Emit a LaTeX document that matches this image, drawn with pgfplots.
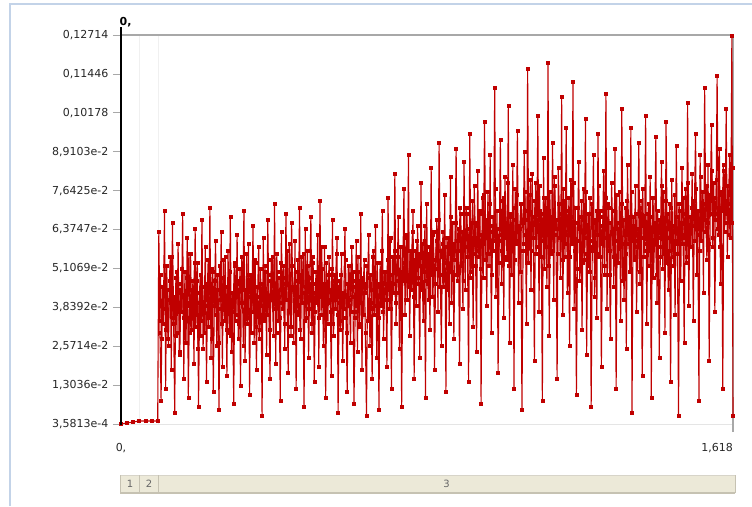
\documentclass[border=0pt]{standalone}
\usepackage{pgfplots}
\pgfplotsset{compat=1.18}
\usepackage{fontspec}
\setmainfont{DejaVu Sans}
\definecolor{datared}{HTML}{C00000}
\definecolor{framebl}{HTML}{C3D3E8}
\definecolor{stripfill}{HTML}{ECE9D8}
\definecolor{stripline}{HTML}{C6C2B2}
\definecolor{tickgray}{HTML}{A8A8A8}
\begin{document}
\begin{tikzpicture}[x=1pt,y=1pt]
\path[use as bounding box] (-121,-82) rectangle (631,424);
% outer frame
\draw[framebl, line width=2pt] (-110.5,-82) -- (-110.5,420) -- (631,420);
% grid lines and borders
\draw[gray!12, line width=0.8pt] (18.5,0) -- (18.5,389);
\draw[gray!12, line width=0.8pt] (37.5,0) -- (37.5,389);
\draw[gray!20, line width=1pt] (0,0) -- (612,0);
\draw[tickgray, line width=1.2pt] (0,389) -- (612,389);
\draw[tickgray, line width=1.2pt] (612,-8) -- (612,389);
\begin{axis}[
  at={(0,0)}, anchor=origin,
  scale only axis, width=612pt, height=389pt,
  xmin=0, xmax=1618, ymin=0.35813, ymax=127.14,
  axis line style={draw=none},
  xtick=\empty,
  ytick={0.35813,13.036,25.714,38.392,51.069,63.747,76.425,89.103,101.78,114.46,127.14},
  yticklabels={{3,5813e-4},{1,3036e-2},{2,5714e-2},{3,8392e-2},{5,1069e-2},{6,3747e-2},{7,6425e-2},{8,9103e-2},{0,10178},{0,11446},{0,12714}},
  ytick pos=left,
  tick align=outside,
  major tick length=8pt,
  ytick style={tickgray, line width=0.8pt},
  yticklabel style={font=\fontsize{11}{13}\selectfont, text=black!85, xshift=-1pt},
  clip=false,
]
% values in units of 1e-3
\addplot[datared, line width=1.1pt, mark=square*, mark size=1.5pt, mark options={datared, line width=0.4pt}] coordinates {
(101.5,34)(104.5,49)(107.5,28)(110.5,45)(113.5,38)(116.5,52)(119.5,31)(122.5,44)(125.5,26)(128.5,47)
(131.5,40)(134.5,55)(137.5,33)(140.5,42)(143.5,29)(146.5,50)(149.5,37)(152.5,46)(155.5,24)(158.5,43)
(161.5,51)(164.5,35)(167.5,41)(170.5,27)(173.5,48)(176.5,39)(179.5,56)(182.5,30)(185.5,44)(188.5,36)
(191.5,42)(194.5,53)(197.5,32)(200.5,47)(203.5,25)(206.5,40)(209.5,49)(212.5,34)(215.5,45)(218.5,38)
(221.5,30)(224.5,46)(227.5,41)(230.5,54)(233.5,35)(236.5,43)(239.5,28)(242.5,50)(245.5,39)(248.5,47)
(251.5,36)(254.5,44)(257.5,27)(260.5,52)(263.5,41)(266.5,33)(269.5,48)(272.5,38)(275.5,55)(278.5,31)
(281.5,45)(284.5,39)(287.5,50)(290.5,29)(293.5,43)(296.5,37)(299.5,53)(302.5,34)(305.5,46)(308.5,42)
(311.5,33)(314.5,51)(317.5,40)(320.5,47)(323.5,26)(326.5,44)(329.5,38)(332.5,56)(335.5,35)(338.5,49)
(341.5,42)(344.5,30)(347.5,48)(350.5,37)(353.5,54)(356.5,32)(359.5,45)(362.5,40)(365.5,28)(368.5,51)
(371.5,39)(374.5,46)(377.5,34)(380.5,52)(383.5,43)(386.5,36)(389.5,49)(392.5,31)(395.5,47)(398.5,41)
(401.5,55)(404.5,38)(407.5,44)(410.5,30)(413.5,50)(416.5,42)(419.5,35)(422.5,53)(425.5,40)(428.5,46)
(431.5,33)(434.5,48)(437.5,41)(440.5,57)(443.5,37)(446.5,45)(449.5,29)(452.5,52)(455.5,44)(458.5,39)
(461.5,47)(464.5,36)(467.5,54)(470.5,42)(473.5,31)(476.5,49)(479.5,40)(482.5,56)(485.5,34)(488.5,45)
(491.5,41)(494.5,52)(497.5,38)(500.5,46)(503.5,33)(506.5,55)(509.5,43)(512.5,37)(515.5,50)(518.5,44)
(521.5,35)(524.5,48)(527.5,42)(530.5,58)(533.5,39)(536.5,46)(539.5,31)(542.5,53)(545.5,40)(548.5,49)
(551.5,44)(554.5,37)(557.5,51)(560.5,33)(563.5,47)(566.5,42)(569.5,56)(572.5,36)(575.5,45)(578.5,40)
(581.5,49)(584.5,34)(587.5,43)(590.5,38)(593.5,54)(596.5,30)(599.5,46)(602.5,41)(605.5,52)(608.5,37)
(611.5,42)(614.5,50)(617.5,35)(620.5,47)(623.5,39)(626.5,55)(629.5,32)(632.5,45)(635.5,40)(638.5,48)
(641.5,36)(644.5,46)(647.5,43)(650.5,52)(653.5,34)(656.5,41)(659.5,49)(662.5,38)(665.5,55)(668.5,44)
(671.5,47)(674.5,39)(677.5,53)(680.5,35)(683.5,45)(686.5,42)(689.5,57)(692.5,37)(695.5,50)(698.5,46)
(701.5,41)(704.5,54)(707.5,44)(710.5,60)(713.5,38)(716.5,49)(719.5,46)(722.5,57)(725.5,40)(728.5,52)
(731.5,55)(734.5,43)(737.5,50)(740.5,36)(743.5,58)(746.5,47)(749.5,53)(752.5,41)(755.5,61)(758.5,49)
(761.5,45)(764.5,57)(767.5,51)(770.5,63)(773.5,42)(776.5,54)(779.5,48)(782.5,60)(785.5,46)(788.5,56)
(791.5,52)(794.5,44)(797.5,59)(800.5,50)(803.5,65)(806.5,47)(809.5,55)(812.5,41)(815.5,58)(818.5,53)
(821.5,49)(824.5,62)(827.5,54)(830.5,46)(833.5,60)(836.5,51)(839.5,67)(842.5,45)(845.5,57)(848.5,55)
(851.5,63)(854.5,48)(857.5,58)(860.5,53)(863.5,44)(866.5,61)(869.5,56)(872.5,68)(875.5,50)(878.5,59)
(881.5,54)(884.5,66)(887.5,49)(890.5,60)(893.5,57)(896.5,71)(899.5,52)(902.5,63)(905.5,47)(908.5,62)
(911.5,58)(914.5,69)(917.5,55)(920.5,64)(923.5,48)(926.5,61)(929.5,73)(932.5,56)(935.5,66)(938.5,52)
(941.5,65)(944.5,57)(947.5,70)(950.5,51)(953.5,62)(956.5,59)(959.5,75)(962.5,54)(965.5,67)(968.5,61)
(971.5,56)(974.5,72)(977.5,63)(980.5,49)(983.5,68)(986.5,60)(989.5,77)(992.5,58)(995.5,64)(998.5,53)
(1001.5,70)(1004.5,62)(1007.5,57)(1010.5,74)(1013.5,55)(1016.5,66)(1019.5,61)(1022.5,79)(1025.5,52)(1028.5,69)
(1031.5,63)(1034.5,58)(1037.5,71)(1040.5,54)(1043.5,67)(1046.5,75)(1049.5,60)(1052.5,65)(1055.5,50)(1058.5,72)
(1061.5,66)(1064.5,59)(1067.5,76)(1070.5,62)(1073.5,53)(1076.5,70)(1079.5,64)(1082.5,80)(1085.5,57)(1088.5,68)
(1091.5,61)(1094.5,73)(1097.5,56)(1100.5,67)(1103.5,63)(1106.5,78)(1109.5,55)(1112.5,69)(1115.5,60)(1118.5,74)
(1121.5,58)(1124.5,71)(1127.5,65)(1130.5,52)(1133.5,76)(1136.5,62)(1139.5,68)(1142.5,57)(1145.5,81)(1148.5,64)
(1151.5,67)(1154.5,56)(1157.5,72)(1160.5,61)(1163.5,69)(1166.5,54)(1169.5,77)(1172.5,63)(1175.5,59)(1178.5,70)
(1181.5,62)(1184.5,74)(1187.5,55)(1190.5,68)(1193.5,60)(1196.5,79)(1199.5,57)(1202.5,66)(1205.5,51)(1208.5,71)
(1211.5,64)(1214.5,58)(1217.5,73)(1220.5,53)(1223.5,67)(1226.5,61)(1229.5,76)(1232.5,56)(1235.5,69)(1238.5,50)
(1241.5,60)(1244.5,72)(1247.5,57)(1250.5,66)(1253.5,48)(1256.5,70)(1259.5,62)(1262.5,78)(1265.5,55)(1268.5,65)
(1271.5,59)(1274.5,68)(1277.5,52)(1280.5,74)(1283.5,61)(1286.5,57)(1289.5,71)(1292.5,49)(1295.5,66)(1298.5,63)
(1301.5,55)(1304.5,70)(1307.5,60)(1310.5,75)(1313.5,53)(1316.5,64)(1319.5,58)(1322.5,72)(1325.5,47)(1328.5,67)
(1331.5,62)(1334.5,56)(1337.5,73)(1340.5,59)(1343.5,68)(1346.5,51)(1349.5,76)(1352.5,60)(1355.5,65)(1358.5,54)
(1361.5,69)(1364.5,58)(1367.5,64)(1370.5,50)(1373.5,71)(1376.5,61)(1379.5,77)(1382.5,55)(1385.5,66)(1388.5,59)
(1391.5,63)(1394.5,72)(1397.5,57)(1400.5,68)(1403.5,52)(1406.5,74)(1409.5,60)(1412.5,66)(1415.5,49)(1418.5,70)
(1421.5,61)(1424.5,67)(1427.5,55)(1430.5,78)(1433.5,62)(1436.5,58)(1439.5,73)(1442.5,53)(1445.5,69)(1448.5,64)
(1451.5,57)(1454.5,71)(1457.5,63)(1460.5,52)(1463.5,75)(1466.5,60)(1469.5,68)(1472.5,56)(1475.5,72)(1478.5,62)
(1481.5,66)(1484.5,59)(1487.5,74)(1490.5,61)(1493.5,69)(1496.5,55)(1499.5,79)(1502.5,63)(1505.5,58)(1508.5,71)
(1511.5,65)(1514.5,73)(1517.5,60)(1520.5,77)(1523.5,62)(1526.5,70)(1529.5,57)(1532.5,81)(1535.5,64)(1538.5,68)
(1541.5,72)(1544.5,63)(1547.5,78)(1550.5,66)(1553.5,59)(1556.5,75)(1559.5,69)(1562.5,83)(1565.5,61)(1568.5,74)
(1571.5,67)(1574.5,80)(1577.5,64)(1580.5,71)(1583.5,58)(1586.5,76)(1589.5,70)(1592.5,85)(1595.5,63)(1598.5,73)
(1601.5,69)(1604.5,78)(1607.5,62)(1610.5,75)(1613.5,66)(1616.5,84)
};
\addplot[datared, line width=1.1pt, mark=square*, mark size=1.5pt, mark options={datared, line width=0.4pt}] coordinates {
(0,0.36)(16,0.7)(32,1.0)(48,1.34)(64,1.34)(80,1.34)(97,1.34)
(100,63)(103,30)(106,8)(109,45)(112,33)(115,70)(118,12)(121,52)(124,28)(127,41)
(130,55)(133,18)(136,66)(139,35)(142,4)(145,48)(148,30)(151,59)(154,23)(157,44)
(160,37)(163,69)(166,15)(169,50)(172,27)(175,61)(178,9)(181,40)(184,56)(187,31)
(190,47)(193,20)(196,64)(199,36)(202,53)(205,6)(208,43)(211,29)(214,67)(217,25)
(220,39)(223,58)(226,14)(229,46)(232,32)(235,71)(238,22)(241,51)(244,11)(247,42)
(250,60)(253,26)(256,49)(259,5)(262,38)(265,63)(268,19)(271,54)(274,34)(277,45)
(280,16)(283,57)(286,30)(289,68)(292,24)(295,41)(298,7)(301,52)(304,36)(307,62)
(310,28)(313,47)(316,13)(319,55)(322,40)(325,70)(328,21)(331,44)(334,33)(337,59)
(340,10)(343,49)(346,37)(349,65)(352,27)(355,53)(358,18)(361,42)(364,58)(367,31)
(370,46)(373,3)(376,61)(379,35)(382,50)(385,23)(388,67)(391,39)(394,15)(397,54)
(400,43)(403,29)(406,72)(409,20)(412,56)(415,34)(418,48)(421,8)(424,63)(427,38)
(430,52)(433,25)(436,69)(439,41)(442,17)(445,59)(448,32)(451,66)(454,45)(457,27)
(460,60)(463,12)(466,50)(469,37)(472,71)(475,28)(478,55)(481,43)(484,6)(487,64)
(490,35)(493,57)(496,22)(499,48)(502,68)(505,30)(508,53)(511,14)(514,46)(517,40)
(520,62)(523,19)(526,73)(529,36)(532,51)(535,26)(538,58)(541,9)(544,44)(547,33)
(550,55)(553,41)(556,16)(559,67)(562,29)(565,49)(568,38)(571,61)(574,4)(577,47)
(580,31)(583,56)(586,21)(589,42)(592,64)(595,35)(598,11)(601,52)(604,39)(607,27)
(610,58)(613,45)(616,7)(619,37)(622,60)(625,24)(628,50)(631,33)(634,69)(637,18)
(640,43)(643,54)(646,30)(649,3)(652,48)(655,62)(658,26)(661,40)(664,15)(667,57)
(670,36)(673,65)(676,22)(679,46)(682,5)(685,53)(688,39)(691,70)(694,28)(697,44)
(700,50)(703,19)(706,74)(709,38)(712,61)(715,12)(718,55)(721,43)(724,82)(727,33)
(730,47)(733,68)(736,25)(739,58)(742,6)(745,49)(748,77)(751,36)(754,62)(757,41)
(760,88)(763,29)(766,53)(769,44)(772,70)(775,15)(778,57)(781,39)(784,65)(787,48)
(790,22)(793,79)(796,51)(799,34)(802,60)(805,9)(808,72)(811,46)(814,56)(817,31)
(820,84)(823,42)(826,63)(829,18)(832,54)(835,67)(838,37)(841,92)(844,49)(847,26)
(850,59)(853,45)(856,75)(859,11)(862,61)(865,52)(868,33)(871,81)(874,40)(877,66)
(880,28)(883,57)(886,90)(889,47)(892,64)(895,20)(898,69)(901,53)(904,38)(907,86)
(910,44)(913,71)(916,58)(919,14)(922,95)(925,50)(928,66)(931,32)(934,78)(937,61)
(940,24)(943,83)(946,55)(949,69)(952,7)(955,74)(958,48)(961,99)(964,63)(967,39)
(970,76)(973,52)(976,88)(979,30)(982,65)(985,57)(988,110)(991,42)(994,70)(997,17)
(1000,60)(1003,93)(1006,46)(1009,73)(1012,35)(1015,81)(1018,62)(1021,54)(1024,104)(1027,27)
(1030,68)(1033,49)(1036,85)(1039,12)(1042,77)(1045,59)(1048,96)(1051,40)(1054,64)(1057,72)
(1060,5)(1063,57)(1066,89)(1069,67)(1072,33)(1075,116)(1078,53)(1081,75)(1084,44)(1087,82)
(1090,61)(1093,21)(1096,79)(1099,58)(1102,101)(1105,37)(1108,70)(1111,63)(1114,8)(1117,87)
(1120,51)(1123,74)(1126,45)(1129,118)(1132,29)(1135,66)(1138,56)(1141,92)(1144,41)(1147,78)
(1150,62)(1153,15)(1156,84)(1159,69)(1162,48)(1165,107)(1168,36)(1171,73)(1174,55)(1177,97)
(1180,43)(1183,65)(1186,26)(1189,80)(1192,59)(1195,112)(1198,38)(1201,71)(1204,10)(1207,60)
(1210,86)(1213,47)(1216,68)(1219,31)(1222,77)(1225,54)(1228,100)(1231,23)(1234,63)(1237,52)
(1240,74)(1243,6)(1246,58)(1249,88)(1252,42)(1255,67)(1258,35)(1261,95)(1264,56)(1267,70)
(1270,19)(1273,61)(1276,83)(1279,49)(1282,108)(1285,38)(1288,72)(1291,57)(1294,28)(1297,79)
(1300,64)(1303,45)(1306,90)(1309,12)(1312,66)(1315,53)(1318,76)(1321,34)(1324,103)(1327,59)
(1330,41)(1333,71)(1336,25)(1339,85)(1342,62)(1345,50)(1348,97)(1351,4)(1354,68)(1357,55)
(1360,78)(1363,37)(1366,60)(1369,92)(1372,46)(1375,73)(1378,16)(1381,65)(1384,57)(1387,101)
(1390,33)(1393,69)(1396,52)(1399,81)(1402,9)(1405,74)(1408,48)(1411,63)(1414,94)(1417,40)
(1420,67)(1423,22)(1426,58)(1429,86)(1432,51)(1435,76)(1438,30)(1441,99)(1444,61)(1447,44)
(1450,72)(1453,14)(1456,80)(1459,55)(1462,65)(1465,36)(1468,91)(1471,59)(1474,3)(1477,70)
(1480,47)(1483,84)(1486,62)(1489,27)(1492,77)(1495,53)(1498,105)(1501,39)(1504,68)(1507,58)
(1510,82)(1513,34)(1516,71)(1519,95)(1522,49)(1525,64)(1528,8)(1531,88)(1534,60)(1537,76)
(1540,43)(1543,110)(1546,67)(1549,54)(1552,85)(1555,21)(1558,73)(1561,98)(1564,58)(1567,79)
(1570,37)(1573,69)(1576,114)(1579,62)(1582,90)(1585,46)(1588,75)(1591,12)(1594,83)(1597,66)
(1600,103)(1603,55)(1606,72)(1609,88)(1612,61)(1615,127)(1618,3)
};
\end{axis}
% black left axis
\draw[black, line width=2.6pt] (0,-0.5) -- (0,397);
\node[anchor=south west, inner sep=0pt, font=\bfseries\fontsize{11}{13}\selectfont] at (-1.5,397) {0,};
% x labels
\node[anchor=north, inner sep=0pt, font=\fontsize{11}{13}\selectfont, text=black!85] at (0,-19) {0,};
\node[anchor=north east, inner sep=0pt, font=\fontsize{11}{13}\selectfont, text=black!85] at (612,-19) {1,618};
% bottom strip
\fill[stripfill] (-1,-69) rectangle (614,-51);
\draw[stripline!70, line width=1pt] (-1,-51) -- (614,-51);
\draw[stripline, line width=1.5pt] (-1,-69) -- (614,-69);
\draw[stripline, line width=0.8pt] (-1,-69) -- (-1,-51);
\draw[stripline, line width=1pt] (614,-69) -- (614,-51);
\draw[stripline, line width=0.8pt] (18.5,-69) -- (18.5,-51);
\draw[stripline, line width=0.8pt] (37.5,-69) -- (37.5,-51);
\node[text=black!60, font=\fontsize{10}{12}\selectfont] at (9,-60) {1};
\node[text=black!60, font=\fontsize{10}{12}\selectfont] at (28,-60) {2};
\node[text=black!60, font=\fontsize{10}{12}\selectfont] at (325.5,-60) {3};
\end{tikzpicture}
\end{document}
